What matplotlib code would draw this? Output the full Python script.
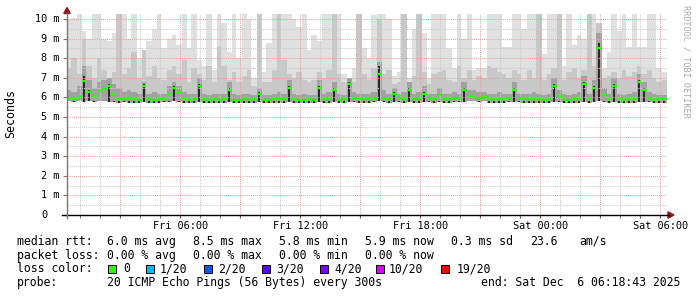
import numpy as np
import pandas as pd
import matplotlib
matplotlib.use("Agg")
import matplotlib.pyplot as plt
import matplotlib.dates as mdates
from matplotlib.patches import Rectangle, Polygon
from matplotlib.lines import Line2D
from matplotlib.ticker import MultipleLocator, FuncFormatter
from matplotlib.transforms import blended_transform_factory

plt.rcParams['font.family'] = ['DejaVu Sans Mono']

W, H = 697, 297

start = "2025-12-05 00:18:43"
end = "2025-12-06 06:18:43"
step = "15min"

# median rtt per 15 min step (ms)
median = [5.95, 5.9, 6.0, 6.85, 6.3, 6.05, 6.35, 6.45, 6.6, 6.2,
          5.9, 5.9, 5.95, 5.9, 5.88, 6.6, 5.9, 5.88, 5.9, 5.92,
          6.2, 6.5, 6.3, 5.9, 5.88, 5.9, 6.6, 5.92, 5.88, 5.9,
          5.87, 5.9, 6.4, 5.88, 5.87, 5.9, 5.88, 5.9, 6.2, 5.88,
          5.87, 5.9, 5.9, 5.92, 6.5, 5.9, 5.88, 5.87, 5.9, 5.88,
          6.5, 5.9, 5.92, 6.4, 5.88, 5.9, 6.7, 5.95, 5.9, 5.92,
          5.9, 5.95, 7.2, 5.95, 5.92, 6.2, 5.95, 5.9, 6.4, 5.92,
          5.92, 6.2, 5.95, 5.92, 6.1, 5.9, 5.92, 5.95, 5.95, 6.4,
          6.05, 6.05, 5.95, 6.0, 5.92, 5.9, 5.9, 5.92, 5.95, 6.4,
          5.95, 5.92, 5.9, 5.92, 5.9, 5.88, 5.9, 6.6, 6.05, 5.9,
          5.88, 5.9, 5.92, 6.7, 5.9, 6.5, 8.5, 6.1, 5.9, 6.6,
          5.9, 5.88, 5.9, 5.92, 6.8, 6.4, 5.95, 5.88, 5.9, 5.9]

# smoke: highest ping, upper band, inner band, core band, lowest ping (ms)
top = [10.0, 10.05, 10.3, 9.4, 9.0, 10.3, 10.3, 9.0, 8.9, 9.3,
       10.3, 10.3, 9.0, 10.3, 8.0, 8.4, 8.9, 9.5, 10.3, 8.5,
       9.0, 9.2, 8.7, 10.3, 8.5, 10.3, 7.9, 7.6, 10.3, 7.4,
       10.3, 9.8, 8.3, 10.3, 8.0, 10.3, 10.0, 7.0, 10.3, 7.3,
       8.8, 10.3, 10.3, 10.3, 10.3, 10.0, 9.6, 10.3, 8.4, 9.2,
       8.9, 10.3, 10.3, 10.3, 10.3, 7.2, 7.0, 7.5, 10.3, 8.5,
       8.0, 10.2, 10.3, 10.3, 10.0, 7.1, 7.3, 10.3, 7.0, 9.5,
       10.3, 9.3, 7.0, 10.3, 10.3, 10.3, 8.5, 7.5, 10.3, 9.0,
       10.3, 7.4, 7.5, 7.5, 10.3, 10.3, 10.3, 8.6, 8.6, 10.3,
       10.3, 9.5, 10.3, 10.3, 10.2, 8.2, 10.3, 10.3, 10.3, 7.6,
       10.3, 8.7, 9.2, 9.0, 10.3, 10.3, 9.6, 7.5, 8.3, 10.3,
       9.4, 10.3, 8.6, 10.3, 8.6, 8.6, 10.3, 10.3, 7.5, 7.3]

upper = [7.5, 8.0, 7.2, 9.0, 7.6, 7.0, 8.0, 7.4, 7.0, 7.3,
         10.3, 7.2, 7.5, 8.3, 7.0, 8.4, 7.1, 7.6, 7.0, 6.9,
         7.4, 7.6, 7.2, 7.9, 6.8, 7.5, 7.2, 6.9, 7.6, 6.8,
         8.6, 7.6, 6.9, 7.3, 6.8, 7.1, 7.4, 6.6, 10.3, 6.8,
         6.8, 7.4, 10.3, 7.9, 7.2, 7.0, 7.3, 6.9, 6.8, 6.9,
         7.3, 7.0, 7.4, 10.3, 7.2, 6.8, 6.7, 6.8, 10.3, 7.2,
         6.9, 7.5, 10.0, 7.2, 7.4, 6.7, 6.8, 10.3, 6.7, 7.1,
         10.3, 7.3, 6.7, 7.2, 7.3, 7.4, 6.9, 6.8, 7.6, 7.0,
         7.4, 6.9, 7.1, 7.0, 7.6, 7.5, 7.3, 7.2, 7.0, 7.4,
         7.2, 6.9, 7.4, 7.0, 10.3, 6.9, 7.2, 7.5, 10.3, 6.9,
         7.3, 7.5, 7.0, 7.4, 10.3, 7.6, 9.8, 7.0, 7.1, 7.3,
         7.0, 7.4, 7.1, 7.3, 7.6, 7.2, 7.4, 7.0, 6.8, 6.9]

inner = [6.4, 6.3, 6.6, 7.6, 6.9, 6.5, 6.8, 6.9, 7.0, 6.7,
         6.5, 6.3, 6.4, 6.3, 6.2, 6.8, 6.2, 6.3, 6.2, 6.2,
         6.6, 6.8, 6.6, 6.3, 6.2, 6.2, 7.0, 6.2, 6.1, 6.2,
         6.2, 6.2, 6.8, 6.2, 6.1, 6.2, 6.2, 6.1, 6.5, 6.1,
         6.1, 6.2, 6.3, 6.2, 6.9, 6.2, 6.1, 6.2, 6.1, 6.1,
         6.9, 6.2, 6.3, 6.8, 6.2, 6.1, 7.0, 6.3, 6.2, 6.2,
         6.2, 6.3, 7.8, 6.4, 6.2, 6.5, 6.2, 6.3, 6.8, 6.2,
         6.3, 6.6, 6.2, 6.2, 6.5, 6.2, 6.2, 6.3, 6.2, 6.8,
         6.4, 6.4, 6.3, 6.3, 6.2, 6.2, 6.3, 6.2, 6.2, 6.8,
         6.2, 6.2, 6.2, 6.3, 6.2, 6.1, 6.2, 7.0, 6.4, 6.2,
         6.1, 6.2, 6.3, 7.1, 6.2, 6.9, 9.3, 6.5, 6.2, 7.0,
         6.2, 6.1, 6.2, 6.3, 7.2, 6.8, 6.3, 6.2, 6.1, 6.1]

core = [5.8, 5.8, 5.8, 7.1, 6.4, 5.8, 5.8, 5.8, 6.7, 5.8,
        5.8, 5.8, 5.8, 5.8, 5.8, 6.7, 5.8, 5.8, 5.8, 5.8,
        5.8, 6.6, 5.8, 5.8, 5.8, 5.8, 6.7, 5.8, 5.8, 5.8,
        5.8, 5.8, 6.5, 5.8, 5.8, 5.8, 5.8, 5.8, 6.3, 5.8,
        5.8, 5.8, 5.8, 5.8, 6.6, 5.8, 5.8, 5.8, 5.8, 5.8,
        6.6, 5.8, 5.8, 6.5, 5.8, 5.8, 6.8, 5.8, 5.8, 5.8,
        5.8, 5.8, 7.6, 5.8, 5.8, 6.3, 5.8, 5.8, 6.5, 5.8,
        5.8, 6.3, 5.8, 5.8, 5.8, 5.8, 5.8, 5.8, 5.8, 6.5,
        5.8, 5.8, 5.8, 5.8, 5.8, 5.8, 5.8, 5.8, 5.8, 6.5,
        5.8, 5.8, 5.8, 5.8, 5.8, 5.8, 5.8, 6.7, 5.8, 5.8,
        5.8, 5.8, 5.8, 6.8, 5.8, 6.6, 8.8, 5.8, 5.8, 6.7,
        5.8, 5.8, 5.8, 5.8, 6.9, 6.5, 5.8, 5.8, 5.8, 5.8]

low = [5.8, 5.75, 5.8, 5.75, 5.8, 5.75, 5.8, 5.8, 5.75, 5.75,
       5.7, 5.75, 5.7, 5.7, 5.72, 5.75, 5.7, 5.72, 5.7, 5.75,
       5.75, 5.8, 5.75, 5.7, 5.7, 5.72, 5.75, 5.7, 5.7, 5.72,
       5.7, 5.72, 5.75, 5.7, 5.7, 5.72, 5.7, 5.72, 5.75, 5.7,
       5.7, 5.72, 5.72, 5.7, 5.75, 5.72, 5.7, 5.7, 5.72, 5.7,
       5.75, 5.72, 5.72, 5.75, 5.7, 5.72, 5.75, 5.75, 5.72, 5.72,
       5.72, 5.75, 5.8, 5.75, 5.72, 5.75, 5.75, 5.72, 5.75, 5.72,
       5.72, 5.75, 5.75, 5.72, 5.75, 5.72, 5.72, 5.75, 5.75, 5.75,
       5.8, 5.8, 5.75, 5.8, 5.72, 5.72, 5.72, 5.72, 5.75, 5.75,
       5.75, 5.72, 5.7, 5.72, 5.7, 5.7, 5.72, 5.75, 5.75, 5.7,
       5.7, 5.72, 5.72, 5.75, 5.7, 5.75, 5.8, 5.75, 5.72, 5.75,
       5.72, 5.7, 5.72, 5.72, 5.75, 5.75, 5.75, 5.7, 5.72, 5.72]

yticks = [0, 1, 2, 3, 4, 5, 6, 7, 8, 9, 10]

rtt_line = [("median rtt:", 16.7), ("6.0 ms avg", 107), ("8.5 ms max", 193),
            ("5.8 ms min", 279.3), ("5.9 ms now", 365), ("0.3 ms sd", 451),
            ("23.6", 530), ("am/s", 579.3)]
loss_line = [("packet loss:", 16.7), ("0.00 % avg", 107), ("0.00 % max", 193),
             ("0.00 % min", 279.3), ("0.00 % now", 365)]
loss_labels = ["0", "1/20", "2/20", "3/20", "4/20", "10/20", "19/20"]
loss_colors = ["#26ff00", "#00b8ff", "#0059ff", "#5e00ff", "#7e00ff", "#dd00ff", "#ff0000"]
loss_box_x = [108, 146, 204, 262, 320, 376, 441]
loss_text_x = [123, 160, 218, 276, 334, 389, 457]
probe_text = "20 ICMP Echo Pings (56 Bytes) every 300s"
end_text = "end: Sat Dec  6 06:18:43 2025"


def fp(x, y):
    return (x / W, 1 - y / H)


edges = pd.date_range(start, end, freq=step)
mids = (edges[:-1] + pd.Timedelta(step) / 2).to_pydatetime()
edges = edges.to_pydatetime()

fig = plt.figure(figsize=(W / 100, H / 100), dpi=100)
ax = fig.add_axes([66.5 / W, 82 / H, 600 / W, 201 / H])

def ext(a):
    return np.append(a, a[-1])

ax.fill_between(edges, ext(low), ext(top), step='post', color='#e0e0e0', lw=0, zorder=1)
ax.fill_between(edges, ext(low), ext(upper), step='post', color='#c8c8c8', lw=0, zorder=1)
ax.fill_between(edges, ext(low), ext(inner), step='post', color='#a2a2a2', lw=0, zorder=1)
ax.vlines(mids, low, core, color='#1e1e1e', lw=1.3, zorder=1.5)
ax.hlines(median, edges[:-1], edges[1:], color='#26ff00', lw=1.7, zorder=4)

ax.set_xlim(edges[0], edges[-1])
ax.set_ylim(0, 10.26)

ax.xaxis.set_major_locator(mdates.HourLocator(byhour=range(0, 24, 3)))
ax.xaxis.set_minor_locator(mdates.HourLocator(byhour=range(24)))

def xfmt(v, pos):
    d = mdates.num2date(v)
    return d.strftime('%a %H:%M') if d.hour % 6 == 0 else ''

ax.xaxis.set_major_formatter(FuncFormatter(xfmt))
ax.yaxis.set_major_locator(MultipleLocator(1))
ax.yaxis.set_minor_locator(MultipleLocator(0.5))

ax.set_axisbelow(False)
ax.grid(which='major', color='#e6a3a3', linestyle=(0, (1, 1)), lw=0.75, zorder=3)
ax.grid(which='minor', color='#cccccc', linestyle=(0, (1, 1)), lw=0.75, zorder=3)

for s in ax.spines.values():
    s.set_visible(False)
ax.tick_params(axis='x', which='both', length=2, color='#555555', labelsize=7.4, pad=2.2)
ax.tick_params(axis='y', which='major', length=3, color='#777777', labelleft=False)
ax.tick_params(axis='y', which='minor', length=0)

tr = blended_transform_factory(fig.transFigure, ax.transData)
for v in yticks:
    if v == 0:
        ax.text(47.8 / W, v, "0", transform=tr, ha='right', va='center', fontsize=7.4)
    else:
        ax.text(59.8 / W, v, f"{v} m", transform=tr, ha='right', va='center', fontsize=7.4)

# axis lines and arrows
fig.add_artist(Line2D([62 / W, 669 / W], [fp(0, 215)[1]] * 2, color='black', lw=1.0))
fig.add_artist(Line2D([66.8 / W] * 2, [fp(0, 218)[1], fp(0, 13)[1]], color='#777777', lw=1.0))
fig.add_artist(Polygon([fp(63.8, 13.5), fp(70.2, 13.5), fp(67, 7.5)], closed=True,
                       color='#8b1a1a', transform=fig.transFigure))
fig.add_artist(Polygon([fp(668, 211.8), fp(668, 218.2), fp(674, 215)], closed=True,
                       color='#8b1a1a', transform=fig.transFigure))

fig.text(*fp(11, 114), "Seconds", rotation=90, ha='center', va='center', fontsize=8.4)
fig.text(*fp(686, 5), "RRDTOOL / TOBI OETIKER", rotation=270, ha='center', va='top',
         fontsize=6.1, color='#aaaaaa')

for s, x in rtt_line:
    fig.text(*fp(x, 241.5), s, ha='left', va='center', fontsize=8.3)
for s, x in loss_line:
    fig.text(*fp(x, 255.2), s, ha='left', va='center', fontsize=8.3)
fig.text(*fp(16.7, 269), "loss color:", ha='left', va='center', fontsize=8.3)
for lab, col, bx, tx in zip(loss_labels, loss_colors, loss_box_x, loss_text_x):
    fig.add_artist(Rectangle(fp(bx, 273.3), 8 / W, 8 / H, facecolor=col,
                             edgecolor='black', lw=0.7, transform=fig.transFigure))
    fig.text(*fp(tx, 269), lab, ha='left', va='center', fontsize=8.3)
fig.text(*fp(16.7, 282.8), "probe:", ha='left', va='center', fontsize=8.3)
fig.text(*fp(107, 282.8), probe_text, ha='left', va='center', fontsize=8.3)
fig.text(*fp(680.5, 282.8), end_text, ha='right', va='center', fontsize=8.3)

fig.savefig("out.png", dpi=100)
